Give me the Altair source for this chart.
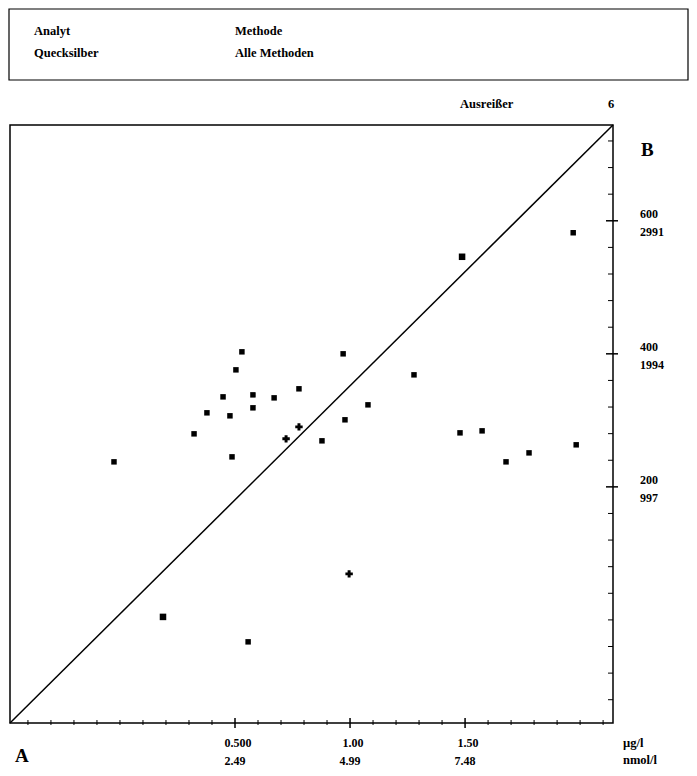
import altair as alt
import pandas as pd

# ---- data ----
x_vals = [-0.026, 0.187, 0.322, 0.378, 0.448, 0.478, 0.487, 0.504, 0.530, 0.557,
          0.578, 0.578, 0.670, 0.722, 0.778, 0.778, 0.878, 0.970, 0.978, 0.996,
          1.078, 1.278, 1.478, 1.487, 1.574, 1.678, 1.778, 1.970, 1.983]
y_vals = [237.6, 4.5, 279.7, 311.3, 335.3, 306.8, 245.1, 375.9, 403.0, -33.0,
          338.3, 318.8, 333.8, 272.2, 290.2, 347.4, 269.2, 400.0, 300.8, 69.2,
          323.3, 368.4, 281.2, 545.9, 284.2, 237.6, 251.1, 582.0, 263.2]
kinds = ["dot", "big", "dot", "dot", "dot", "dot", "dot", "dot", "dot", "dot",
         "dot", "dot", "dot", "cross", "cross", "dot", "dot", "dot", "dot", "cross",
         "dot", "dot", "dot", "big", "dot", "dot", "dot", "dot", "dot"]

x_domain = [-0.478, 2.143]
y_domain = [-155, 744]

x_major = [0.5, 1.0, 1.5]
x_lab1 = ["0.500", "1.00", "1.50"]
x_lab2 = ["2.49", "4.99", "7.48"]
x_minor = [-0.4, -0.3, -0.2, -0.1, 0.0, 0.1, 0.2, 0.3, 0.4, 0.6, 0.7, 0.8, 0.9,
           1.1, 1.2, 1.3, 1.4, 1.6, 1.7, 1.8, 1.9, 2.0, 2.1]

y_major = [200, 400, 600]
y_lab1 = ["200", "400", "600"]
y_lab2 = ["997", "1994", "2991"]
y_minor = [-120, -80, -40, 0, 40, 80, 120, 160, 240, 280, 320, 360, 440, 480,
           520, 560, 640, 680, 720]

PW, PH = 603, 598
FONT = "Liberation Serif"

xs = alt.Scale(domain=x_domain, nice=False, zero=False)
ys = alt.Scale(domain=y_domain, nice=False, zero=False)

pts = pd.DataFrame({"x": x_vals, "y": y_vals, "kind": kinds})
line_df = pd.DataFrame({"x": x_domain, "y": y_domain})

base_ax = dict(ticks=False, labels=False, title=None, grid=False,
               domainColor="black", domainWidth=2)

points = alt.Chart(pts).mark_point(filled=True, color="black", opacity=1).encode(
    x=alt.X("x:Q", scale=xs, axis=alt.Axis(orient="bottom", **base_ax)),
    y=alt.Y("y:Q", scale=ys, axis=alt.Axis(orient="right", **base_ax)),
    shape=alt.Shape("kind:N", scale=alt.Scale(domain=["dot", "big", "cross"],
                                              range=["square", "square", "cross"]), legend=None),
    size=alt.Size("kind:O", scale=alt.Scale(domain=["dot", "big", "cross"],
                                            range=[30, 55, 22]), legend=None),
)

diag = alt.Chart(line_df).mark_line(color="black", strokeWidth=1.5).encode(
    x=alt.X("x:Q", scale=xs, axis=None),
    y=alt.Y("y:Q", scale=ys, axis=None),
)

xmin_df = pd.DataFrame({"t": x_minor})
xmaj_df = pd.DataFrame({"t": x_major, "l1": x_lab1, "l2": x_lab2})
ymin_df = pd.DataFrame({"t": y_minor})
ymaj_df = pd.DataFrame({"t": y_major, "l1": y_lab1, "l2": y_lab2})

xt_minor = alt.Chart(xmin_df).mark_rule(color="black", strokeWidth=1).encode(
    x=alt.X("t:Q", scale=xs, axis=None), y=alt.value(PH - 3), y2=alt.value(PH + 2))
xt_major = alt.Chart(xmaj_df).mark_rule(color="black", strokeWidth=1.5).encode(
    x=alt.X("t:Q", scale=xs, axis=None), y=alt.value(PH - 5), y2=alt.value(PH + 5))
yt_minor = alt.Chart(ymin_df).mark_rule(color="black", strokeWidth=1).encode(
    y=alt.Y("t:Q", scale=ys, axis=None), x=alt.value(PW - 5), x2=alt.value(PW))
yt_major = alt.Chart(ymaj_df).mark_rule(color="black", strokeWidth=1.5).encode(
    y=alt.Y("t:Q", scale=ys, axis=None), x=alt.value(PW - 7), x2=alt.value(PW + 5))

tstyle = dict(font=FONT, fontWeight="bold", fontSize=12, color="black")
x_l1 = alt.Chart(xmaj_df).mark_text(**tstyle, align="center", dx=3).encode(
    x=alt.X("t:Q", scale=xs, axis=None), y=alt.value(PH + 20), text="l1:N")
x_l2 = alt.Chart(xmaj_df).mark_text(**tstyle, align="center").encode(
    x=alt.X("t:Q", scale=xs, axis=None), y=alt.value(PH + 38), text="l2:N")
y_l1 = alt.Chart(ymaj_df).mark_text(**tstyle, align="left", dy=-7).encode(
    y=alt.Y("t:Q", scale=ys, axis=None), x=alt.value(PW + 27), text="l1:N")
y_l2 = alt.Chart(ymaj_df).mark_text(**tstyle, align="left", dy=11).encode(
    y=alt.Y("t:Q", scale=ys, axis=None), x=alt.value(PW + 27), text="l2:N")

ann = pd.DataFrame({
    "text": ["Analyt", "Methode", "Quecksilber", "Alle Methoden", "Ausreißer", "6",
             "µg/l", "nmol/l"],
    "px": [24, 225, 24, 225, 450, 598, 613, 613],
    "py": [-94, -94, -72, -72, -21, -21, PH + 20, PH + 37],
})
ann_layers = []
for _, r in ann.iterrows():
    ann_layers.append(
        alt.Chart(pd.DataFrame({"t": [r["text"]]})).mark_text(**{**tstyle, "fontSize": 12.5}, align="left").encode(
            x=alt.value(r["px"]), y=alt.value(r["py"]), text="t:N"))

big = dict(font=FONT, fontWeight="bold", fontSize=19, color="black")
lab_A = alt.Chart(pd.DataFrame({"t": ["A"]})).mark_text(**big, align="left").encode(
    x=alt.value(5), y=alt.value(PH + 33), text="t:N")
lab_B = alt.Chart(pd.DataFrame({"t": ["B"]})).mark_text(**big, align="left").encode(
    x=alt.value(PW + 28), y=alt.value(25), text="t:N")

box = alt.Chart(pd.DataFrame({"a": [0]})).mark_rect(fill=None, stroke="black", strokeWidth=1.2).encode(
    x=alt.value(-1), x2=alt.value(PW + 75), y=alt.value(-116), y2=alt.value(-45))

chart = alt.layer(
    diag, points, xt_minor, xt_major, yt_minor, yt_major,
    x_l1, x_l2, y_l1, y_l2, lab_A, lab_B, box, *ann_layers
).properties(
    width=PW, height=PH,
    autosize=alt.AutoSizeParams(type="none"),
    padding={"left": 2, "top": 117, "right": 76, "bottom": 45},
    background="white",
).configure_view(stroke="black", strokeWidth=1.5)

chart.save("out.html", embed_options={"renderer": "svg", "actions": False})
